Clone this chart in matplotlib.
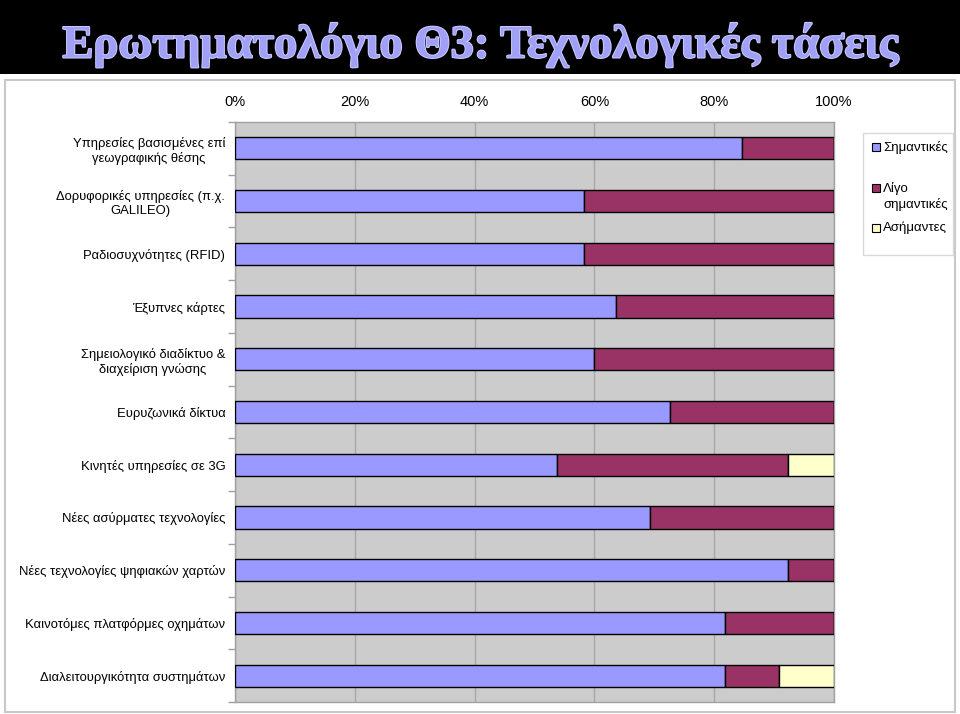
import matplotlib
matplotlib.use("Agg")
import matplotlib.pyplot as plt
from matplotlib.patches import Rectangle
import matplotlib.patheffects as pe
import numpy as np

categories = [
    "Υπηρεσίες βασισμένες επί\nγεωγραφικής θέσης",
    "Δορυφορικές υπηρεσίες (π.χ.\nGALILEO)",
    "Ραδιοσυχνότητες (RFID)",
    "Έξυπνες κάρτες",
    "Σημειολογικό διαδίκτυο &\nδιαχείριση γνώσης",
    "Ευρυζωνικά δίκτυα",
    "Κινητές υπηρεσίες σε 3G",
    "Νέες ασύρματες τεχνολογίες",
    "Νέες τεχνολογίες ψηφιακών χαρτών",
    "Καινοτόμες πλατφόρμες οχημάτων",
    "Διαλειτουργικότητα συστημάτων",
]
important = [84.6, 58.3, 58.3, 63.6, 60.0, 72.7, 53.8, 69.2, 92.3, 81.8, 81.8]
less_important = [15.4, 41.7, 41.7, 36.4, 40.0, 27.3, 38.5, 30.8, 7.7, 18.2, 9.1]
unimportant = [0, 0, 0, 0, 0, 0, 7.7, 0, 0, 0, 9.1]
series_names = ["Σημαντικές", "Λίγο\nσημαντικές", "Ασήμαντες"]
xticks = [0, 20, 40, 60, 80, 100]
title = "Ερωτηματολόγιο Θ3: Τεχνολογικές τάσεις"

colors = ["#9999FF", "#993366", "#FFFFCC"]
sans = ["Liberation Sans", "DejaVu Sans"]

W, H = 960, 714
fig = plt.figure(figsize=(W / 100, H / 100), dpi=100)
fig.patch.set_facecolor("white")

def fx(px):
    return px / W

def fy(py):
    return 1 - py / H

# black title band
fig.patches.append(Rectangle((0, fy(74)), 1, 74 / H, transform=fig.transFigure,
                             facecolor="black", edgecolor="none", zorder=-2))
fig.text(0.5, fy(45), title, ha="center", va="center", color="#A0A0F6",
         fontsize=33.5, fontweight="bold", family=["Liberation Serif", "DejaVu Serif"],
         path_effects=[pe.withStroke(linewidth=1.5, foreground="#C8C8FF")], zorder=5)

# chart frame
fig.patches.append(Rectangle((fx(5), fy(712)), fx(950), 632 / H, transform=fig.transFigure,
                             facecolor="white", edgecolor="#C8C8C8", linewidth=1.5, zorder=-1))

ax = fig.add_axes([fx(235), fy(702), fx(834) - fx(235), (702 - 122) / H])
ax.set_zorder(2)
ax.set_facecolor("#CCCCCC")

y = np.arange(len(categories))
h = 0.42
left = np.zeros(len(categories))
for vals, c, name in zip([important, less_important, unimportant], colors, series_names):
    vals = np.array(vals)
    ax.barh(y, vals, left=left, height=h, color=c, edgecolor="black", linewidth=1.0,
            label=name, zorder=3)
    left = left + vals

ax.set_xlim(0, 100)
ax.set_ylim(len(categories) - 0.5, -0.5)
ax.set_xticks(xticks)
ax.set_xticklabels([f"{v}%" for v in xticks], family=sans, fontsize=10.5)
ax.xaxis.tick_top()
ax.tick_params(axis="x", length=0, pad=9.5)
ax.grid(axis="x", color="#A8A8A8", linewidth=1.0, zorder=1)
ax.set_axisbelow(True)

ax.set_yticks(y)
ax.set_yticklabels(categories, family=sans, fontsize=9.4)
for t in ax.get_yticklabels():
    t.set_multialignment("center")
ax.set_yticks(np.arange(len(categories) + 1) - 0.5, minor=True)
ax.tick_params(axis="y", which="major", length=0, pad=7)
ax.tick_params(axis="y", which="minor", length=5, color="#A0A0A0", width=1)
for s in ax.spines.values():
    s.set_color("#A0A0A0")
    s.set_linewidth(1.0)

# legend (drawn as a box with swatches and labels)
fig.patches.append(Rectangle((fx(863), fy(255)), fx(90), 122 / H, transform=fig.transFigure,
                             facecolor="white", edgecolor="#D8D8D8", linewidth=1.0, zorder=3))
legend_y = [147, 188, 228]
for name, c, ly in zip(series_names, colors, legend_y):
    fig.patches.append(Rectangle((fx(872), fy(ly + 4)), fx(8), 8 / H, transform=fig.transFigure,
                                 facecolor=c, edgecolor="black", linewidth=0.8, zorder=4))
    fig.text(fx(883), fy(ly - 6), name, ha="left", va="top", family=sans,
             fontsize=9.5, linespacing=1.3, zorder=4)

fig.savefig("out.png", dpi=100)
